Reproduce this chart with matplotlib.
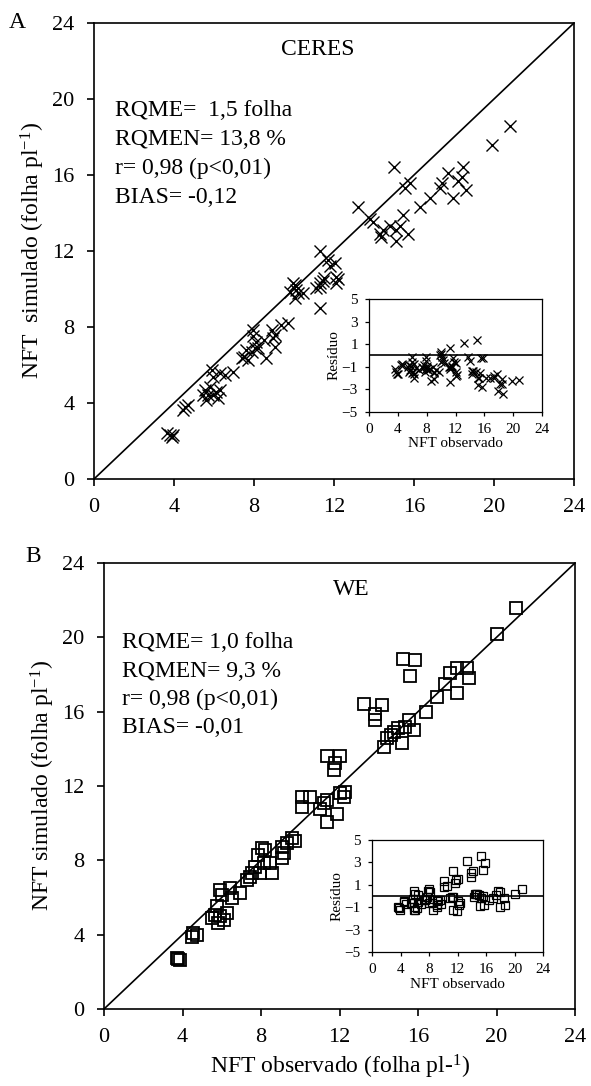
from matplotlib import pyplot as plt
import numpy as np

plt.rcParams['font.family'] = ['Liberation Serif', 'DejaVu Serif']
plt.rcParams['mathtext.fontset'] = 'custom'
plt.rcParams['mathtext.rm'] = 'Liberation Serif'
plt.rcParams['mathtext.it'] = 'Liberation Serif:italic'

# CERES: observado x simulado (folha pl-1)
ceres_obs = [3.80, 3.88, 3.63, 3.97, 4.55, 4.70, 4.45,
             5.55, 5.70, 5.60, 5.97, 6.10, 6.20, 5.80, 6.30, 5.45,
             5.90, 5.97, 6.30, 6.55, 6.97,
             7.60, 7.50, 7.70, 7.40, 7.90, 8.05,
             7.97, 7.97, 8.50, 8.20, 8.10, 8.60,
             8.90, 9.05, 8.95, 9.05, 9.35, 9.70,
             9.97, 10.10, 10.05, 10.45, 9.80, 10.20, 10.05,
             11.30, 11.30, 11.45, 12.10, 11.10, 11.30, 11.50, 12.20, 12.10, 11.80, 12.05, 11.70, 11.30,
             13.20, 13.80, 13.95, 14.45, 14.35, 14.30, 14.80, 15.10, 15.10, 15.70, 15.30, 15.45,
             15.00, 15.80, 15.55,
             16.30, 16.80, 17.30, 17.40, 17.70, 17.95, 18.45, 18.40, 18.20, 18.60,
             19.90, 20.80]
ceres_sim = [2.32, 2.23, 2.40, 2.32, 3.80, 3.90, 3.63,
             4.68, 4.42, 4.16, 4.42, 4.60, 4.25, 4.86, 4.68, 4.42,
             5.74, 5.38, 5.56, 5.47, 5.65,
             6.80, 6.40, 6.25, 6.35, 6.70, 6.90,
             7.84, 7.50, 7.30, 6.90, 7.20, 6.35,
             7.84, 7.60, 7.40, 6.96, 8.10, 8.20,
             10.30, 9.95, 9.50, 9.80, 9.85, 9.80, 10.20,
             8.98, 10.10, 10.40, 10.30, 10.05, 10.30, 10.60, 10.50, 10.65, 11.20, 11.35, 11.50, 12.00,
             14.30, 13.70, 13.50, 13.10, 12.75, 12.90, 13.30, 13.10, 12.50, 12.90, 13.30, 13.90,
             16.40, 15.60, 15.30,
             14.30, 14.80, 15.30, 15.60, 16.10, 14.80, 16.40, 15.90, 15.70, 15.20,
             17.60, 18.60]

# WE
we_obs = [3.79, 3.88, 3.71, 4.47, 4.73, 4.56,
          5.92, 6.00, 6.43, 6.51, 6.94, 5.75, 5.66, 5.92, 6.26, 5.83, 5.49, 6.09,
          7.28, 7.45, 7.53, 7.70, 7.96, 8.13, 8.47, 8.56, 8.05, 7.87, 8.21,
          9.07, 9.15, 9.07, 9.32, 9.74, 9.57,
          10.09, 10.51, 10.09, 11.19, 11.36, 12.04, 12.30, 12.21, 11.36, 11.87, 11.00,
          11.36, 12.04, 11.78, 11.70,
          13.27, 14.17, 13.83, 13.83,
          14.25, 14.42, 14.60, 14.76, 15.00, 15.19, 15.36, 15.53, 15.78,
          15.24, 15.87, 15.60,
          16.40, 16.97, 17.40, 17.65, 17.99, 18.50, 18.60, 18.00,
          20.00, 21.00]
we_sim = [2.69, 2.65, 2.74, 3.89, 3.98, 4.07,
          6.41, 6.15, 6.50, 5.97, 6.24, 5.52, 5.07, 4.98, 5.16, 4.62, 4.89, 4.80,
          6.94, 7.12, 7.30, 7.65, 7.30, 7.84, 7.84, 7.30, 8.65, 8.30, 8.56,
          8.10, 8.37, 8.73, 8.91, 9.05, 9.18,
          11.41, 11.41, 10.88, 11.06, 11.24, 11.60, 11.70, 11.41, 10.07, 10.52, 10.78,
          13.59, 13.59, 13.23, 12.87,
          16.40, 16.36, 15.90, 15.55,
          14.12, 14.57, 14.75, 14.93, 15.10, 14.30, 15.20, 15.55, 15.02,
          18.83, 18.78, 17.90,
          16.00, 16.80, 17.50, 18.06, 18.37, 18.33, 17.80, 16.99,
          20.20, 21.60]

ticks = [0, 4, 8, 12, 16, 20, 24]
res_ticks = [-5, -3, -1, 1, 3, 5]

ceres_txt = ['RQME=  1,5 folha', 'RQMEN= 13,8 %', 'r= 0,98 (p<0,01)', 'BIAS= -0,12']
we_txt = ['RQME= 1,0 folha', 'RQMEN= 9,3 %', 'r= 0,98 (p<0,01)', 'BIAS= -0,01']

FS = 17


def painel(ax, obs, sim, nome, xnome, txt, xtxt, ytxt, ylab, marker, ms, mew):
    ax.plot([0, 24], [0, 24], color='black', lw=1.2)
    if marker == 'x':
        ax.plot(obs, sim, 'x', color='black', ms=ms, mew=mew)
    else:
        ax.plot(obs, sim, marker, mfc='none', mec='black', ms=ms, mew=mew)
    ax.set_xlim(0, 24)
    ax.set_ylim(0, 24)
    ax.set_xticks(ticks)
    ax.set_yticks(ticks)
    ax.tick_params(direction='out', length=5, width=1.2, labelsize=FS - 1, pad=9)
    for s in ax.spines.values():
        s.set_linewidth(1.2)
    ax.text(xnome, 22.6, nome, ha='center', va='center', fontsize=FS)
    # uma linha por vez, 1.52 unidades entre linhas
    for i, linha in enumerate(txt):
        ax.text(xtxt, ytxt - 1.52 * i, linha, ha='left', va='center', fontsize=FS)
    ax.set_ylabel(ylab, fontsize=FS, labelpad=4)


def residuo(ax, obs, sim, marker, ms):
    res = np.array(sim) - np.array(obs)
    ax.axhline(0, color='black', lw=1.2)
    if marker == 'x':
        ax.plot(obs, res, 'x', color='black', ms=ms, mew=0.9)
    else:
        ax.plot(obs, res, marker, mfc='none', mec='black', ms=ms, mew=0.9)
    ax.set_xlim(0, 24)
    ax.set_ylim(-5, 5)
    ax.set_xticks(ticks)
    ax.set_yticks(res_ticks)
    ax.tick_params(direction='out', length=3, width=0.9, labelsize=11, pad=5)
    for s in ax.spines.values():
        s.set_linewidth(0.9)
    ax.set_ylabel('Resíduo', fontsize=11, labelpad=1)
    ax.set_xlabel('NFT observado', fontsize=11, labelpad=1)


fig = plt.figure(figsize=(5.91, 10.86), dpi=100)

axA = fig.add_axes([94 / 591, 1 - 479 / 1086, 480 / 591, 456 / 1086])
painel(axA, ceres_obs, ceres_sim, 'CERES', 11.2, ceres_txt, 1.05, 19.4,
       'NFT  simulado (folha pl$^{-1}$)', 'x', 9, 1.0)
insA = fig.add_axes([369 / 591, 1 - 412 / 1086, 173 / 591, 113 / 1086])
residuo(insA, ceres_obs, ceres_sim, 'x', 6)

axB = fig.add_axes([104 / 591, 1 - 1009 / 1086, 471 / 591, 446 / 1086])
painel(axB, we_obs, we_sim, 'WE', 12.6, we_txt, 0.92, 19.7,
       'NFT simulado (folha pl$^{-1}$)', 's', 8, 1.3)
axB.set_xlabel('NFT observado (folha pl-$^{1}$)', fontsize=FS, labelpad=4)
insB = fig.add_axes([372 / 591, 1 - 952 / 1086, 171 / 591, 112 / 1086])
residuo(insB, we_obs, we_sim, 's', 6)

fig.text(17 / 591, 1 - 23 / 1086, 'A', fontsize=FS, ha='center', va='center')
fig.text(33 / 591, 1 - 557 / 1086, 'B', fontsize=FS, ha='center', va='center')

plt.savefig('out.png', dpi=100)
